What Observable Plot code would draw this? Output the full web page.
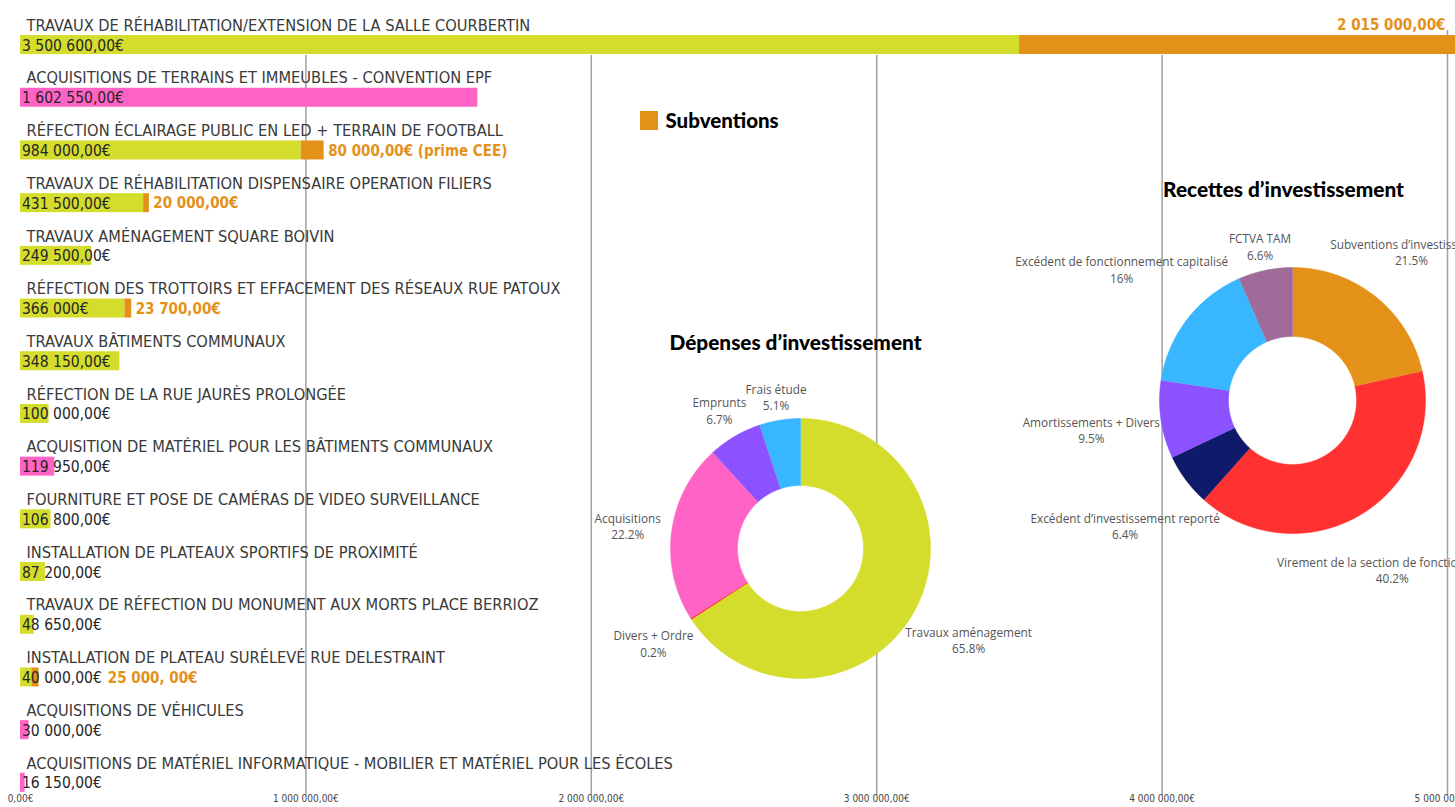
<!DOCTYPE html>
<html><head><meta charset="utf-8">
<script src="https://cdn.jsdelivr.net/npm/d3@7"></script>
<script src="https://cdn.jsdelivr.net/npm/@observablehq/plot@0.6"></script>
<style>
html,body{margin:0;padding:0;background:#fff;overflow:hidden}
#wrap{position:relative;width:1455px;height:807px;overflow:hidden}
#wrap svg{position:absolute;left:0;top:0}
</style></head><body><div id="wrap"></div>
<script>
// ---------- DATA ----------
const projects = [
  "TRAVAUX DE RÉHABILITATION/EXTENSION DE LA SALLE COURBERTIN",
  "ACQUISITIONS DE TERRAINS ET IMMEUBLES - CONVENTION EPF",
  "RÉFECTION ÉCLAIRAGE PUBLIC EN LED + TERRAIN DE FOOTBALL",
  "TRAVAUX DE RÉHABILITATION DISPENSAIRE OPERATION FILIERS",
  "TRAVAUX AMÉNAGEMENT SQUARE BOIVIN",
  "RÉFECTION DES TROTTOIRS ET EFFACEMENT DES RÉSEAUX RUE PATOUX",
  "TRAVAUX BÂTIMENTS COMMUNAUX",
  "RÉFECTION DE LA RUE JAURÈS PROLONGÉE",
  "ACQUISITION DE MATÉRIEL POUR LES BÂTIMENTS COMMUNAUX",
  "FOURNITURE ET POSE DE CAMÉRAS DE VIDEO SURVEILLANCE",
  "INSTALLATION DE PLATEAUX SPORTIFS DE PROXIMITÉ",
  "TRAVAUX DE RÉFECTION DU MONUMENT AUX MORTS PLACE BERRIOZ",
  "INSTALLATION DE PLATEAU SURÉLEVÉ RUE DELESTRAINT",
  "ACQUISITIONS DE VÉHICULES",
  "ACQUISITIONS DE MATÉRIEL INFORMATIQUE - MOBILIER ET MATÉRIEL POUR LES ÉCOLES"
];
const amounts = [3500600, 1602550, 984000, 431500, 249500, 366000, 348150, 100000, 119950, 106800, 87200, 48650, 40000, 30000, 16150];
const amountLabels = ["3 500 600,00€", "1 602 550,00€", "984 000,00€", "431 500,00€", "249 500,00€", "366 000€", "348 150,00€", "100 000,00€", "119 950,00€", "106 800,00€", "87 200,00€", "48 650,00€", "40 000,00€", "30 000,00€", "16 150,00€"];
const kinds = ["Travaux", "Acquisitions", "Travaux", "Travaux", "Travaux", "Travaux", "Travaux", "Travaux", "Acquisitions", "Travaux", "Travaux", "Travaux", "Travaux", "Acquisitions", "Acquisitions"];
const subsidies = [2015000, 0, 80000, 20000, 0, 23700, 0, 0, 0, 0, 0, 0, 25000, 0, 0];
const subsidyLabels = ["2 015 000,00€", "", "80 000,00€ (prime CEE)", "20 000,00€", "", "23 700,00€", "", "", "", "", "", "", "25 000, 00€", "", ""];
const xTicks = [0, 1000000, 2000000, 3000000, 4000000, 5000000];
const xTickLabels = ["0,00€", "1 000 000,00€", "2 000 000,00€", "3 000 000,00€", "4 000 000,00€", "5 000 000,00€"];
const legendLabel = "Subventions";

const depTitle = "Dépenses d’investissement";
const depNames = ["Travaux aménagement", "Divers + Ordre", "Acquisitions", "Emprunts", "Frais étude"];
const depValues = [65.8, 0.2, 22.2, 6.7, 5.1];

const recTitle = "Recettes d’investissement";
const recNames = ["Subventions d’investissement", "Virement de la section de fonctionnement", "Excédent d’investissement reporté", "Amortissements + Divers", "Excédent de fonctionnement capitalisé", "FCTVA TAM"];
const recValues = [21.5, 40.2, 6.4, 9.5, 16, 6.6];

// ---------- STYLE ----------
const C_TRAV = "#d4dc2c", C_ACQ = "#ff63c5", C_SUB = "#e4911a";
const depPalette = ["#d4dc2c", "#ff3131", "#ff63c5", "#8c52ff", "#38b6ff"];
const recPalette = ["#e4911a", "#ff3131", "#0f1a6b", "#8c52ff", "#38b6ff", "#a06a99"];
const NARROW = "'Liberation Sans Narrow','DejaVu Sans Condensed','Roboto Condensed',sans-serif";
const HEAVY = "Lato, 'Noto Sans', sans-serif";
const LABELF = "'Open Sans', 'Noto Sans', sans-serif";
const W = 1455, H = 807;
const ROW = 52.7, TOP = 18.2;
const XMAX = 5000000;
const XRANGE = [20, 1447];
const VAL_SIZE = 15.5, SUB_SIZE = 15, TITLE_SIZE = 16.3;

const ctx = document.createElement("canvas").getContext("2d");
function textWidth(str, font) { ctx.font = font; try { ctx.fontStretch = "condensed"; } catch (e) {} return ctx.measureText(str).width; }

const xs = Plot.scale({x: {domain: [0, XMAX], range: XRANGE}});

const rows = projects.map((p, i) => ({p, amount: amounts[i], label: amountLabels[i], kind: kinds[i], sub: subsidies[i], subLabel: subsidyLabels[i]}));
const subRows = rows.filter(d => d.sub > 0).map(d => {
  const barEnd = xs.apply(d.amount + d.sub) + 4;
  const textEnd = XRANGE[0] + 1.5 + textWidth(d.label, `${VAL_SIZE}px ${NARROW}`) + 6;
  return {...d, lx: xs.invert(Math.max(barEnd, textEnd))};
});

const bars = Plot.plot({
  width: W, height: H, margin: 0,
  style: {background: "transparent", fontStretch: "condensed"},
  x: {domain: [0, XMAX], range: XRANGE, axis: null},
  y: {domain: projects, range: [TOP, TOP + ROW * projects.length], padding: 0, round: false, axis: null},
  color: {domain: ["Travaux", "Acquisitions"], range: [C_TRAV, C_ACQ]},
  marks: [
    Plot.ruleX(xTicks.filter(d => d > 0 && d < XMAX), {stroke: "#a0a0a0", strokeWidth: 1.5, insetTop: 55, insetBottom: 12}),
    Plot.ruleX([XMAX], {stroke: "#a0a0a0", strokeWidth: 1.5, insetTop: 30, insetBottom: 12}),
    Plot.barX(rows, {y: "p", x1: 0, x2: "amount", fill: "kind", insetTop: 16.85, insetBottom: 16.85}),
    Plot.barX(subRows, {y: "p", x1: "amount", x2: d => d.amount + d.sub, fill: C_SUB, insetTop: 16.85, insetBottom: 16.85, clip: true}),
    Plot.text(rows, {y: "p", x: 0, text: "p", textAnchor: "start", dx: 6, dy: -19.5, fill: "#3a3a3a", fontSize: TITLE_SIZE, fontFamily: NARROW}),
    Plot.text(rows, {y: "p", x: 0, text: "label", textAnchor: "start", dx: 1.5, dy: 0.5, fill: "#262626", fontSize: VAL_SIZE, fontFamily: NARROW}),
    Plot.text(subRows.filter(d => d.amount + d.sub <= XMAX), {y: "p", x: "lx", text: "subLabel", textAnchor: "start", dy: 0.5, fill: C_SUB, fontSize: SUB_SIZE, fontWeight: "bold", fontFamily: NARROW}),
    Plot.text(subRows.filter(d => d.amount + d.sub > XMAX), {y: "p", x: XMAX, text: "subLabel", textAnchor: "end", dx: -2, dy: -19.5, fill: C_SUB, fontSize: SUB_SIZE, fontWeight: "bold", fontFamily: NARROW}),
    Plot.text(xTicks, {x: d => d, text: (d, i) => xTickLabels[i], frameAnchor: "bottom", dy: -6, fill: "#444", fontSize: 10, fontFamily: NARROW})
  ]
});

// ---------- DONUTS ----------
const LABEL_SIZE = 11.8;
const pct = v => (+v.toFixed(1)) + "%";

function donut(names, values, cx, cy, r0, r1) {
  const total = d3.sum(values);
  const pts = [], labels = [];
  let acc = 0;
  names.forEach((n, i) => {
    const a0 = acc / total * 2 * Math.PI; acc += values[i];
    const a1 = acc / total * 2 * Math.PI;
    const steps = Math.max(2, Math.ceil((a1 - a0) / 0.01));
    for (let k = 0; k <= steps; k++) { const a = a0 + (a1 - a0) * k / steps; pts.push({n, x: cx + r1 * Math.sin(a), y: cy - r1 * Math.cos(a)}); }
    for (let k = steps; k >= 0; k--) { const a = a0 + (a1 - a0) * k / steps; pts.push({n, x: cx + r0 * Math.sin(a), y: cy - r0 * Math.cos(a)}); }
    const am = (a0 + a1) / 2, s = Math.sin(am), c = Math.cos(am);
    ctx.fontStretch = "normal";
    ctx.font = `${LABEL_SIZE}px ${LABELF}`;
    const w = ctx.measureText(n).width;
    const d = r1 + 20 + 0.37 * Math.abs(s) * w;
    labels.push({n, text: n + "\n" + pct(values[i]), x: cx + d * s, y: cy - d * c});
  });
  return {pts, labels};
}
const D1 = {cx: 800, cy: 548, r0: 63, r1: 130};
const D2 = {cx: 1292, cy: 400, r0: 64, r1: 133};
const dep = donut(depNames, depValues, D1.cx, D1.cy, D1.r0, D1.r1);
const rec = donut(recNames, recValues, D2.cx, D2.cy, D2.r0, D2.r1);

const overlay = Plot.plot({
  width: W, height: H, margin: 0,
  style: {background: "transparent"},
  x: {domain: [0, W], range: [0, W], axis: null},
  y: {domain: [0, H], range: [0, H], axis: null},
  color: {domain: [...depNames, ...recNames], range: [...depPalette, ...recPalette]},
  marks: [
    Plot.line(dep.pts, {x: "x", y: "y", z: "n", fill: "n", stroke: "n", strokeWidth: 0.5}),
    Plot.line(rec.pts, {x: "x", y: "y", z: "n", fill: "n", stroke: "n", strokeWidth: 0.5}),
    Plot.text(dep.labels, {x: "x", y: "y", text: "text", fill: "#555", fontSize: LABEL_SIZE, lineHeight: 1.4, fontFamily: LABELF}),
    Plot.text(rec.labels, {x: "x", y: "y", text: "text", fill: "#555", fontSize: LABEL_SIZE, lineHeight: 1.4, fontFamily: LABELF}),
    Plot.text([depTitle], {x: D1.cx - 5, y: D1.cy - 205, text: d => d, fontSize: 20.8, fontWeight: 900, fill: "#000", fontFamily: HEAVY}),
    Plot.text([recTitle], {x: D2.cx - 9, y: D2.cy - 210, text: d => d, fontSize: 20.8, fontWeight: 900, fill: "#000", fontFamily: HEAVY}),
    Plot.rect([legendLabel], {x1: 640, x2: 658, y1: 111, y2: 130, fill: C_SUB}),
    Plot.text([legendLabel], {x: 665, y: 121, text: d => d, textAnchor: "start", fontSize: 20.5, fontWeight: 900, fill: "#000", fontFamily: HEAVY})
  ]
});

const wrap = document.getElementById("wrap");
wrap.appendChild(bars);
wrap.appendChild(overlay);
</script></body></html>
